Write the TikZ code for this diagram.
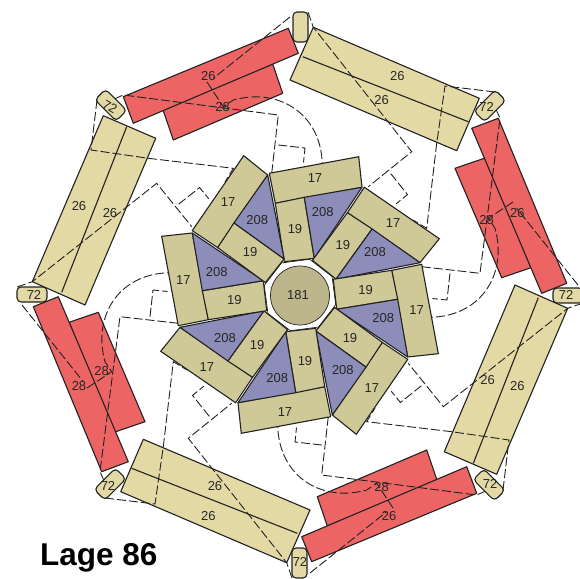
\documentclass[tikz,border=0pt]{standalone}
\usepackage{fontspec}
\setmainfont{Liberation Sans}
\usepackage{tikz}
\definecolor{lageTan}{HTML}{E3D9A5}
\definecolor{lageOlive}{HTML}{CFC998}
\definecolor{lageViolet}{HTML}{8D8DBA}
\definecolor{lageRed}{HTML}{EC6464}
\definecolor{lageCore}{HTML}{BDB68C}
\definecolor{lageInk}{HTML}{222222}
\begin{document}
\begin{tikzpicture}[
        x=1pt,
        y=1pt,
        platebox/.style={
            draw=lageInk,
            line width=1.1pt,
            line join=round
        },
        tanbox/.style={
            platebox,
            fill=lageTan
        },
        olivebox/.style={
            platebox,
            fill=lageOlive
        },
        violetbox/.style={
            platebox,
            fill=lageViolet
        },
        redbox/.style={
            platebox,
            fill=lageRed
        },
        capsulebox/.style={
            platebox,
            fill=lageTan,
            rounded corners=4pt
        },
        seam/.style={
            draw=lageInk,
            line width=0.9pt,
            dash pattern=on 9pt off 3pt
        },
        platelabel/.style={
            inner sep=0pt,
            text=black!85,
            font=\fontsize{13}{15}\selectfont
        },
        sectorpic/.pic={
            \path[olivebox] (-30.7,121.7) -- (58.7,138.3) -- (62,107.7) -- (-24.7,91.7) -- cycle;
            \path[olivebox] (-24.7,91.7) -- (4.3,97.7) -- (14.3,36.7) -- (-15.7,33.3) -- cycle;
            \path[violetbox] (4.3,97.7) -- (62,107.7) -- (14.3,36.7) -- cycle;
            \path[capsulebox] (-7,253) rectangle (8,283);
            \path[seam] (-21.7,150) -- (5,147) -- (3.5,132.5);
            \node[platelabel] (a) at (15,116.7) {17};
            \node[platelabel] (b) at (-5,65.7) {19};
            \node[platelabel] (c) at (22.7,83.3) {208};
        },
        quadrantpic/.pic={
            \path[redbox] (-137.3,186) -- (-27.3,231) -- (-17.3,201.7) -- (-126.7,155) -- cycle;
            \path[redbox] (-176.7,198.3) -- (-11.7,266.7) -- (-1.7,241.7) -- (-166.7,171.7) -- cycle;
            \path[tanbox] (13.3,267.7) -- (179.3,196.7) -- (156.7,144.3) -- (-10,215) -- cycle;
            \path[platebox] (2.7,238.3) -- (168.3,173.3);
            \path[seam] (-28.3,121.7) -- (-21.7,180) -- (-176.7,200) -- (-188,195);
            \path[seam] (-10,278) -- (-86.7,216.7);
            \path[seam] (-93,213) -- (-76.7,188.3) -- (-66.7,195)
                .. controls (-20,208) and (24,180) .. (22.3,125);
            \path[seam] (195,203) -- (145,209) -- (136.7,151.7) -- (126.7,66.7) -- (113,75);
            \path[seam] (8,283) -- (13.3,267.7) -- (111.7,143.3) -- (68.3,108.3);
        }
    ]

    % Ein Pixel der Vorlage ist 1pt, Ursprung in der Mitte des Kerns.
    % Innen wiederholt sich alles je 45 Grad, aussen je 90 Grad.
    \useasboundingbox (-300,-283) rectangle (280,295);

    \pic[rotate=0] (qa) {quadrantpic};
    \pic[rotate=-90] (qb) {quadrantpic};
    \pic[rotate=-180] (qc) {quadrantpic};
    \pic[rotate=-270] (qd) {quadrantpic};

    \path[platebox,fill=white,line width=0.7pt] (30:37) -- (75:37) -- (120:37) -- (165:37)
        -- (210:37) -- (255:37) -- (300:37) -- (345:37) -- cycle;
    \pic[rotate=0] (sa) {sectorpic};
    \pic[rotate=-45] (sb) {sectorpic};
    \pic[rotate=-90] (sc) {sectorpic};
    \pic[rotate=-135] (sd) {sectorpic};
    \pic[rotate=-180] (se) {sectorpic};
    \pic[rotate=-225] (sf) {sectorpic};
    \pic[rotate=-270] (sg) {sectorpic};
    \pic[rotate=-315] (sh) {sectorpic};
    \path[platebox,fill=lageCore,line width=0.7pt] (0,-0.5) circle (29.5);

    \node[platelabel] (core) at (-2,0) {181};

    \node[platelabel] (tanNa) at (97.3,219) {26};
    \node[platelabel] (tanNb) at (81.7,195) {26};
    \node[platelabel] (tanEa) at (217.3,-90.7) {26};
    \node[platelabel] (tanEb) at (187.7,-84.7) {26};
    \node[platelabel] (tanSa) at (-85,-190.7) {26};
    \node[platelabel] (tanSb) at (-91.7,-221.3) {26};
    \node[platelabel] (tanWa) at (-221,89) {26};
    \node[platelabel] (tanWb) at (-190,81.7) {26};

    \node[platelabel] (redNa) at (-91.7,219) {26};
    \node[platelabel] (redNb) at (-77.3,188.3) {28};
    \node[platelabel] (redEa) at (217.3,81.7) {26};
    \node[platelabel] (redEb) at (186.7,75) {28};
    \node[platelabel] (redSa) at (81.7,-192) {28};
    \node[platelabel] (redSb) at (89,-221.3) {26};
    \node[platelabel] (redWa) at (-221,-90.7) {28};
    \node[platelabel] (redWb) at (-198.3,-76.3) {28};

    \node[platelabel] (capNE) at (186.7,187.7) {72};
    \node[platelabel] (capE) at (266,0) {72};
    \node[platelabel] (capSE) at (190,-189) {72};
    \node[platelabel] (capS) at (0,-267) {72};
    \node[platelabel] (capSW) at (-192,-191) {72};
    \node[platelabel] (capW) at (-266,0) {72};
    \node[platelabel,rotate=-30] (capNW) at (-190,188) {72};

    \node[anchor=base west,inner sep=0pt,font=\fontsize{31.5}{33}\selectfont\bfseries] (lage) at (-260,-270) {Lage 86};

    \end{tikzpicture}
\end{document}
